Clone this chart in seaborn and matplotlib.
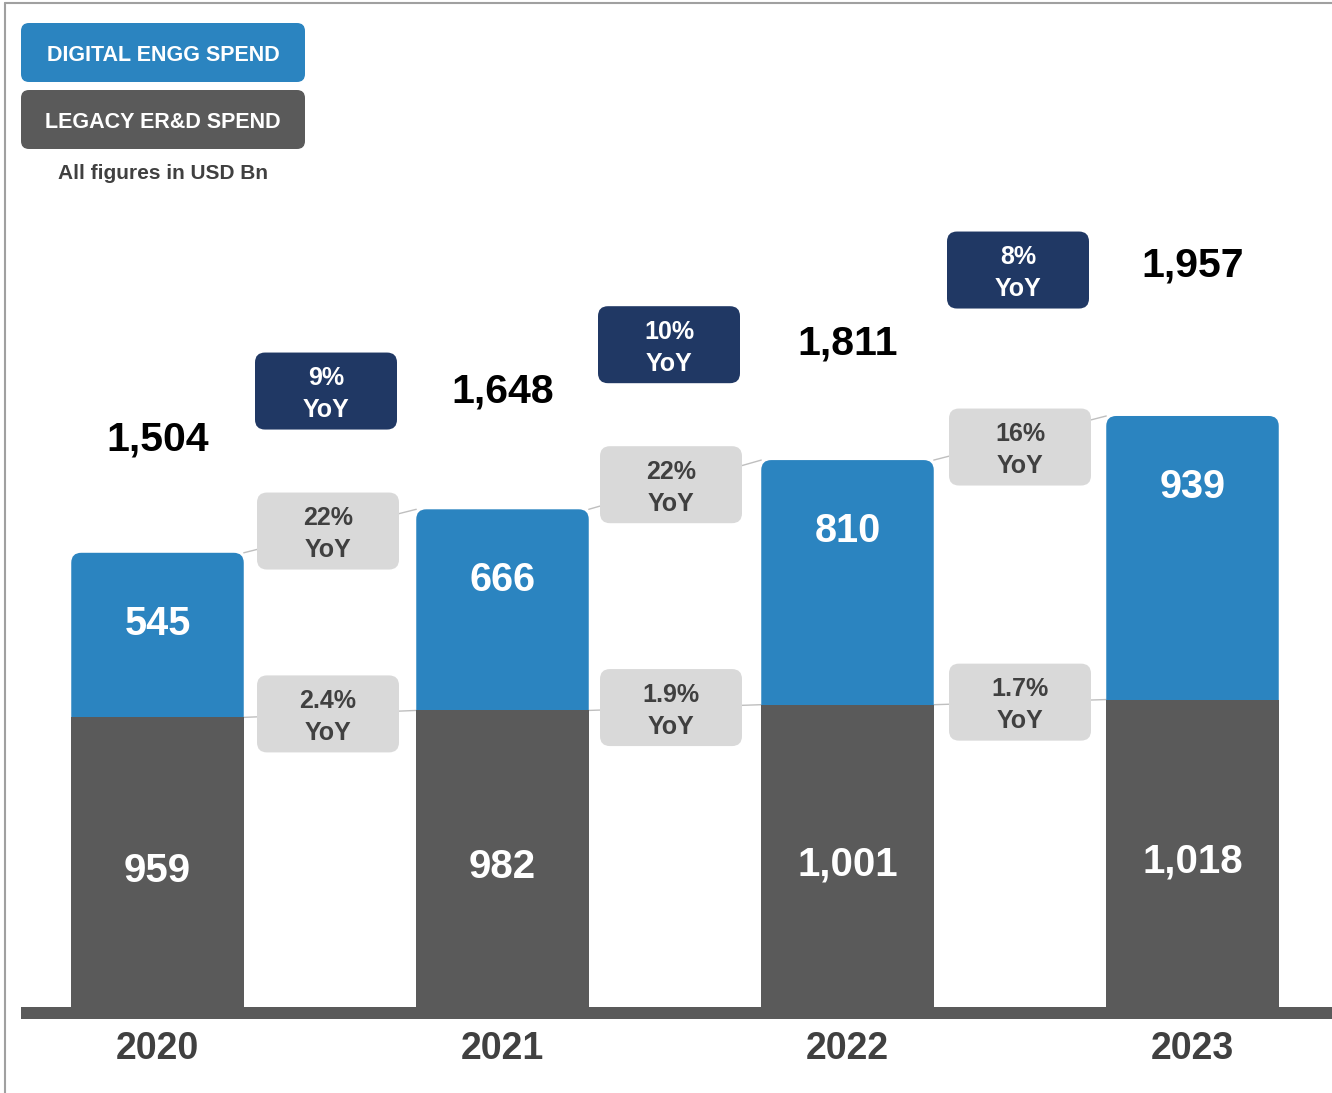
"""
Digital vs legacy ER&D spend, stacked bars with YoY call-outs.
"""
import pandas as pd
import seaborn as sns
import matplotlib.pyplot as plt
from matplotlib.patches import FancyBboxPatch

years = ['2020', '2021', '2022', '2023']
digital = [545, 666, 810, 939]
legacy = [959, 982, 1001, 1018]
total_labels = ['1,504', '1,648', '1,811', '1,957']
digital_labels = ['545', '666', '810', '939']
legacy_labels = ['959', '982', '1,001', '1,018']
total_yoy = ['9%', '10%', '8%']
digital_yoy = ['22%', '22%', '16%']
legacy_yoy = ['2.4%', '1.9%', '1.7%']

BLUE = '#2B84C0'
GREY = '#5A5A5A'
NAVY = '#203864'
LIGHT = '#D9D9D9'
TEXT = '#404040'
LINE = '#BFBFBF'

W, H = 1332, 1093

sns.set_theme(style='white')
plt.rcParams['font.family'] = ['Liberation Sans', 'DejaVu Sans']

df = pd.DataFrame({'year': years, 'digital': digital, 'legacy': legacy})
df['total'] = df['digital'] + df['legacy']

fig = plt.figure(figsize=(W / 100, H / 100), dpi=100)
ax = fig.add_axes([0, 0, 1, 1])

# stacked look: totals in blue, legacy drawn over them in grey
sns.barplot(data=df, x='year', y='total', color=BLUE, saturation=1,
            width=0.5, errorbar=None, linewidth=0, ax=ax)
n_blue = len(ax.patches)
sns.barplot(data=df, x='year', y='legacy', color=GREY, saturation=1,
            width=0.5, errorbar=None, linewidth=0, ax=ax)

# map data -> image pixels: bar centres at 157.5 + 345*i, y=0 at 1007px
px_x, px_y = 345.0, 0.302
ax.set_xlim(-157.5 / px_x, (W - 157.5) / px_x)
ax.set_ylim(-(H - 1007) / px_y, 1007 / px_y)
ax.axis('off')

# round the top corners of the blue bars
r = 10 / px_x
for p in ax.patches[:n_blue]:
    p.set_visible(False)
    ax.add_patch(FancyBboxPatch((p.get_x(), p.get_y()), p.get_width(), p.get_height(),
                                boxstyle='round,pad=0,rounding_size={}'.format(r),
                                mutation_aspect=px_x / px_y, fc=BLUE, ec='none',
                                zorder=0.5))

# thick base line
ax.axhspan(-12 / px_y, 0, xmin=21 / W, xmax=1, color=GREY, lw=0, zorder=2)

# thin connectors between bar tops
for i in range(len(years) - 1):
    ax.plot([i + 0.25, i + 0.75], [df['total'][i], df['total'][i + 1]],
            color=LINE, lw=1, zorder=0.4)
    ax.plot([i + 0.25, i + 0.75], [legacy[i], legacy[i + 1]],
            color=LINE, lw=1, zorder=0.4)

# overlay axes in image pixel units for boxes and labels
ov = fig.add_axes([0, 0, 1, 1])
ov.set_xlim(0, W)
ov.set_ylim(H, 0)
ov.axis('off')
ov.patch.set_alpha(0)


def to_px(x, y):
    dx, dy = ax.transData.transform((x, y))
    return dx, H - dy


def label(x, y, s, size, color):
    # y is the visual middle of capitals / digits
    ov.text(x, y + 0.497 * size, s, fontsize=size, color=color,
            fontweight='bold', ha='center', va='baseline')


def box(cx, cy, w, h, fc, rad=10):
    ov.add_patch(FancyBboxPatch((cx - w / 2, cy - h / 2), w, h,
                                boxstyle='round,pad=0,rounding_size={}'.format(rad),
                                fc=fc, ec='none', zorder=3))


def yoy_box(cx, cy, pct, fc, tc):
    box(cx, cy, 142, 77, fc)
    label(cx, cy - 15, pct, 18, tc)
    label(cx, cy + 17, 'YoY', 18, tc)


# legend
box(163, 52.5, 284, 59, BLUE, rad=8)
label(163, 53, 'DIGITAL ENGG SPEND', 15.5, 'white')
box(163, 119.5, 284, 59, GREY, rad=8)
label(163, 120, 'LEGACY ER&D SPEND', 15.5, 'white')
label(163, 172, 'All figures in USD Bn', 15, TEXT)

# bar labels
total_lift = [117, 121, 120, 154]
for i, yr in enumerate(years):
    cx, top = to_px(i, df['total'][i])
    _, mid = to_px(i, legacy[i])
    _, base = to_px(i, 0)
    label(cx, top - total_lift[i], total_labels[i], 29.5, 'black')
    label(cx, top + 68, digital_labels[i], 28.5, 'white')
    label(cx, (mid + base) / 2 + 5, legacy_labels[i], 29, 'white')
    label(cx, 1045.5, yr, 27, TEXT)

# YoY call-outs
navy_lift = [140, 140, 168]
upper_shift = [0, 0, 9]
x_shift = [-2, -4, 0]
for i in range(len(years) - 1):
    cx, up = to_px(i + 0.5, (df['total'][i] + df['total'][i + 1]) / 2)
    _, low = to_px(i + 0.5, (legacy[i] + legacy[i + 1]) / 2)
    yoy_box(cx + x_shift[i], up + upper_shift[i], digital_yoy[i], LIGHT, TEXT)
    yoy_box(cx + x_shift[i], low, legacy_yoy[i], LIGHT, TEXT)
    yoy_box(cx + x_shift[i] - 2, up - navy_lift[i], total_yoy[i], NAVY, 'white')

# frame lines on left and top
ov.plot([5, 5], [3, H], color='#A0A0A0', lw=1.5, clip_on=False)
ov.plot([5, W], [3, 3], color='#A0A0A0', lw=1.5, clip_on=False)

fig.savefig('out.png', dpi=100)
